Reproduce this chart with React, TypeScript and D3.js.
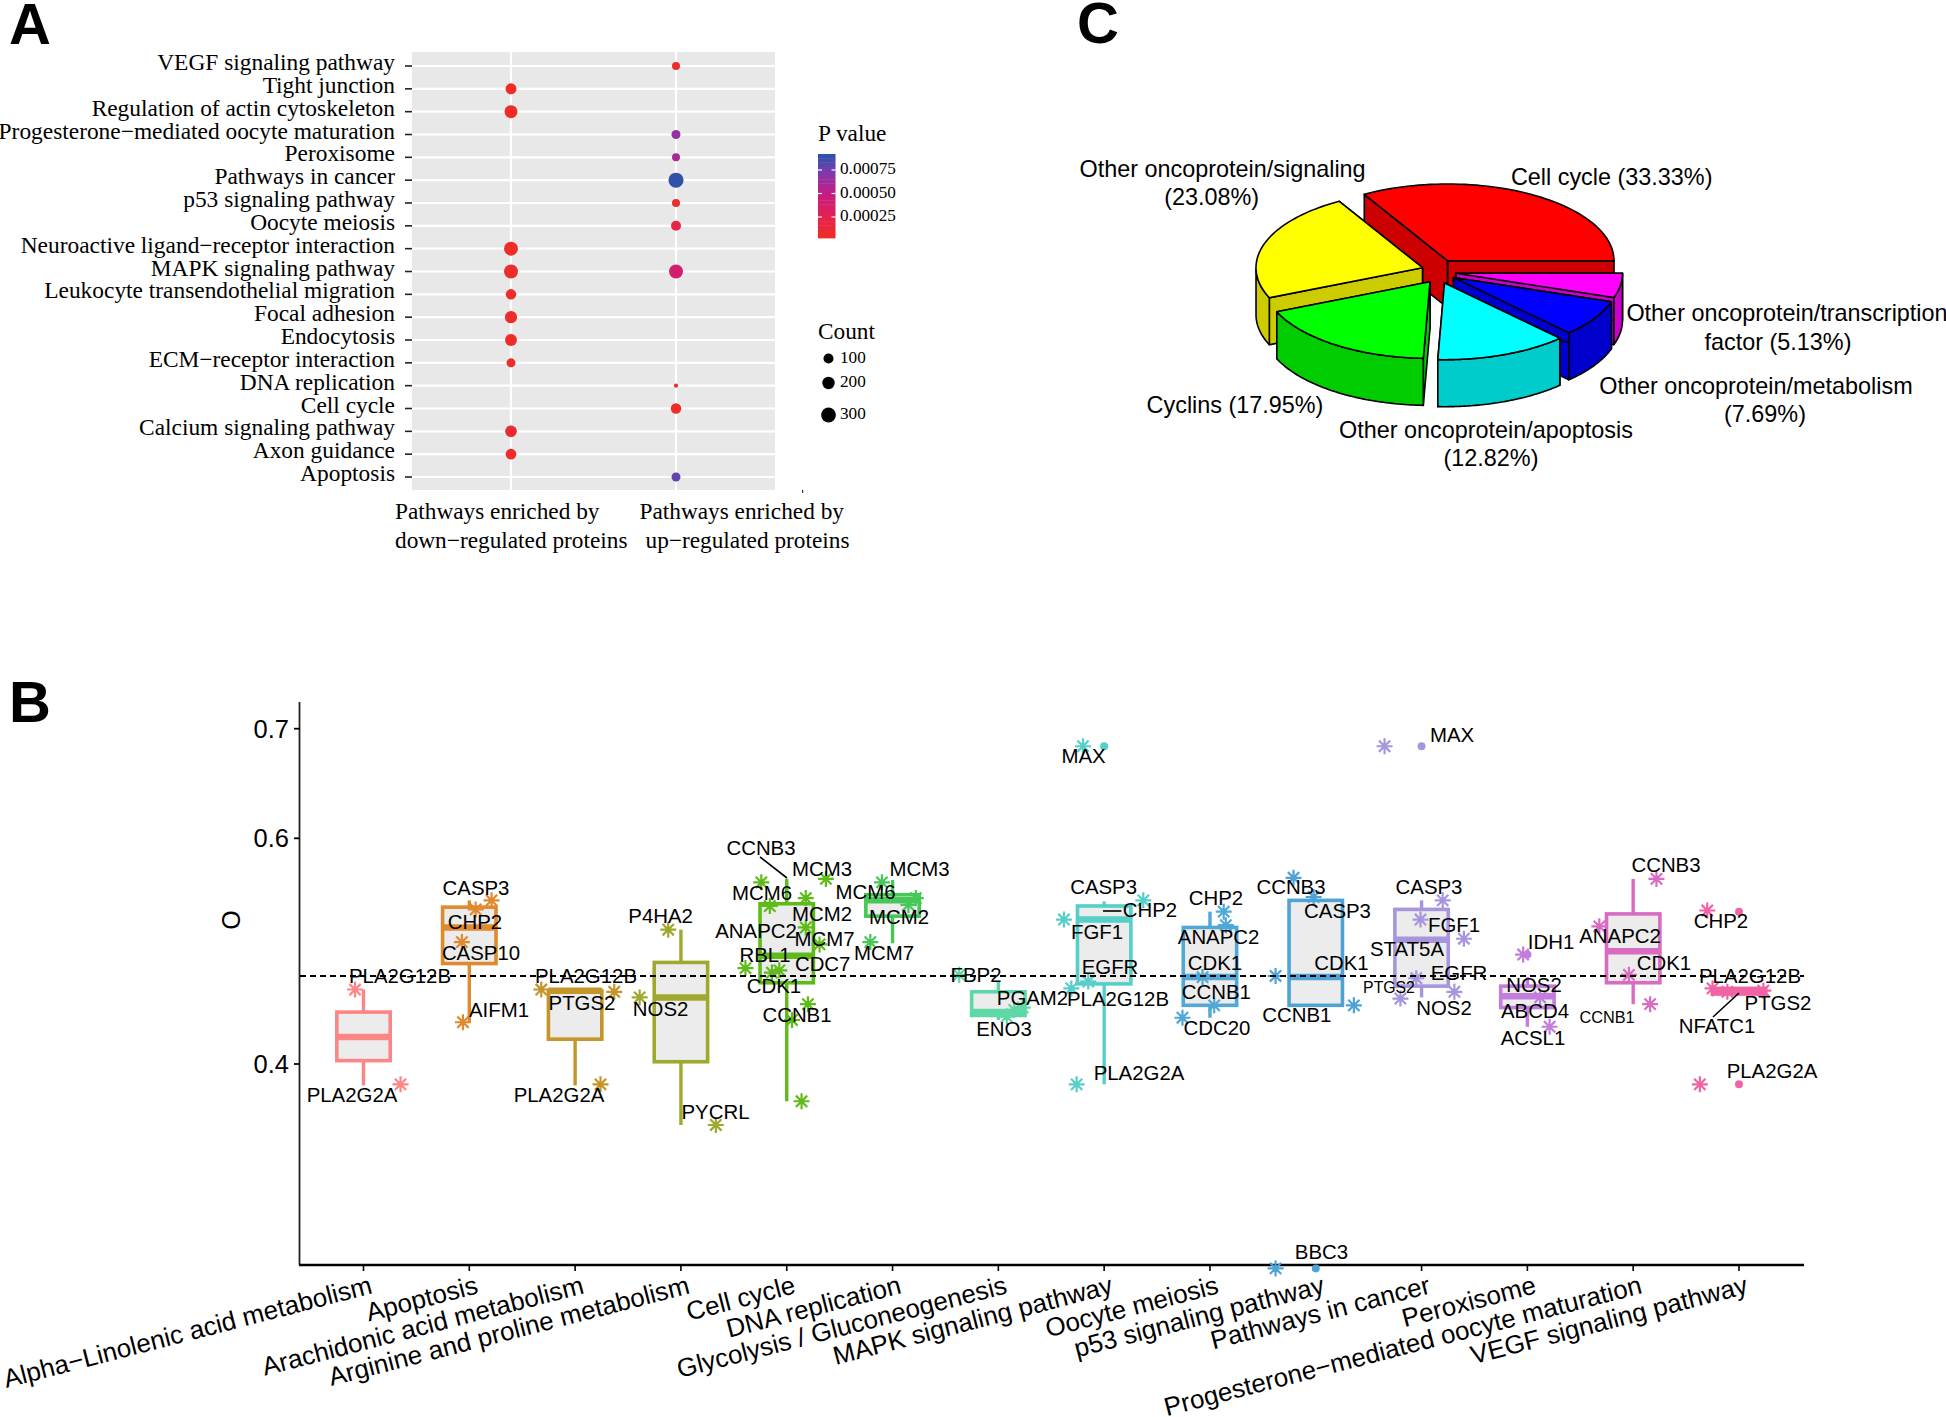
import React from "react";
import * as d3 from "d3";

const SERIF = "'Liberation Serif', serif";
const SANS = "'Liberation Sans', Arial, sans-serif";

/* ---------- Panel A data ---------- */
const pathwaysA = ["VEGF signaling pathway","Tight junction","Regulation of actin cytoskeleton","Progesterone−mediated oocyte maturation","Peroxisome","Pathways in cancer","p53 signaling pathway","Oocyte meiosis","Neuroactive ligand−receptor interaction","MAPK signaling pathway","Leukocyte transendothelial migration","Focal adhesion","Endocytosis","ECM−receptor interaction","DNA replication","Cell cycle","Calcium signaling pathway","Axon guidance","Apoptosis"];
// [pathway index, column, count, p value]
const enrichment: [number, number, number, number][] = [
  [0,1,70,0.00006],[1,0,140,0.00006],[2,0,225,0.00005],[3,1,85,0.00068],[4,1,70,0.00060],[5,1,310,0.00091],
  [6,1,70,0.00008],[7,1,100,0.00022],[8,0,265,0.00006],[9,0,265,0.00008],[9,1,265,0.00040],[10,0,120,0.00006],
  [11,0,190,0.00006],[12,0,180,0.00006],[13,0,85,0.00006],[14,1,12,0.00005],[15,1,120,0.00006],[16,0,170,0.00010],
  [17,0,130,0.00006],[18,1,85,0.00080]
];
const pTicks = [0.00025, 0.0005, 0.00075];
const countTicks = [100, 200, 300];

/* ---------- Panel B data ---------- */
const categories = ["Alpha−Linolenic acid metabolism","Apoptosis","Arachidonic acid metabolism","Arginine and proline metabolism","Cell cycle","DNA replication","Glycolysis / Gluconeogenesis","MAPK signaling pathway","Oocyte meiosis","p53 signaling pathway","Pathways in cancer","Peroxisome","Progesterone−mediated oocyte maturation","VEGF signaling pathway"];
const boxColors = ["#fb8686","#e08a2e","#c4962a","#9ea92d","#5fbb1a","#45c858","#5fd8a8","#55cfc8","#4fa8d8","#4fa2d6","#a795dd","#c37ddc","#d96cc0","#f064a5"];
const q1 = [.403,.489,.422,.402,.472,.531,.443,.471,.452,.452,.469,.450,.472,.462];
const med = [.424,.521,.465,.459,.496,.545,.446,.528,.477,.477,.510,.460,.500,.465];
const q3 = [.446,.539,.465,.490,.542,.550,.464,.540,.521,.545,.537,.469,.533,.467];
const wLo = [.381,.437,.381,.346,.367,.507,.439,.382,.441,.452,.459,.433,.453,.462];
const wHi = [.466,.545,.465,.519,.564,.563,.473,.544,.535,.545,.545,.477,.564,.467];
// outlier stars by category: [jitter in category units, O]
const stars: [number, number][][] = [
  [[-.08,.466],[.35,.382]],
  [[.21,.545],[.06,.537],[-.07,.508],[-.06,.437]],
  [[-.32,.466],[.37,.464],[.24,.382]],
  [[-.12,.519],[-.39,.459],[.33,.346]],
  [[-.24,.561],[-.16,.540],[.37,.564],[.18,.547],[.18,.521],[.31,.506],[-.39,.485],[-.07,.483],[-.14,.481],[.20,.453],[.05,.439],[.14,.367]],
  [[-.10,.561],[.22,.547],[.15,.541],[-.21,.508]],
  [[-.37,.479],[.15,.448],[.08,.442],[.23,.450]],
  [[-.20,.684],[.37,.545],[-.38,.528],[-.31,.467],[-.15,.473],[-.26,.382]],
  [[.13,.535],[.15,.523],[-.07,.477],[.04,.452],[-.26,.441]],
  [[-.21,.565],[-.02,.548],[-.38,.478],[.36,.452],[-.38,.219]],
  [[-.35,.684],[.20,.545],[-.01,.528],[.40,.511],[-.05,.476],[-.20,.458],[.31,.464]],
  [[-.04,.497],[.12,.459],[.21,.433]],
  [[.22,.564],[-.32,.522],[-.04,.479],[.16,.453]],
  [[-.30,.536],[-.25,.467],[-.11,.464],[.23,.465],[-.37,.382]]
];
// labelled points sitting on the category centre: [category, O]
const dots: [number, number][] = [[7,.684],[9,.219],[10,.684],[11,.497],[13,.535],[13,.382]];
const yTicks = [0.4, 0.6, 0.7];
const refLine = 0.478;

const geneNames = ["PLA2G12B","PLA2G2A","CASP3","CHP2","CASP10","AIFM1","PLA2G12B","PTGS2","PLA2G2A","P4HA2","NOS2","PYCRL","CCNB3","MCM3","MCM6","MCM2","ANAPC2","MCM7","RBL1","CDC7","CDK1","CCNB1","MCM3","MCM6","MCM2","MCM7","FBP2","PGAM2","ENO3","MAX","CASP3","CHP2","FGF1","EGFR","PLA2G12B","PLA2G2A","CHP2","ANAPC2","CDK1","CCNB1","CDC20","CCNB3","CASP3","CDK1","CCNB1","BBC3","MAX","CASP3","FGF1","STAT5A","EGFR","PTGS2","NOS2","IDH1","NOS2","ABCD4","ACSL1","CCNB3","ANAPC2","CDK1","CCNB1","CHP2","PLA2G12B","PTGS2","NFATC1","PLA2G2A"];
// annotation layout, same order as geneNames: [cx, cy, font size]
const geneLayout: [number, number, number][] = [
  [400,976,20.4],[352,1095,20.4],[476,888,20.4],[475,922,20.4],[481,953,20.4],[499,1010,20.4],[586,976,20.4],[582,1003,20.4],[559,1095,20.4],[660.6,916,20.4],[660.6,1009,20.4],[715.5,1112,20.4],
  [761,848,20.4],[822,869,20.4],[762,893,20.4],[822,914,20.4],[756,931,20.4],[824.5,939,20.4],[765,955,20.4],[822.7,964,20.4],[774,986,20.4],[797,1015,20.4],[919.5,869,20.4],[865.5,892,20.4],[899,917,20.4],[884,953,20.4],
  [976,975,20.4],[1032.5,998,20.4],[1004,1029,20.4],[1083.6,756,20.4],[1103.6,887,20.4],[1150,910,20.4],[1097,932,20.4],[1110,967,20.4],[1118,999,20.4],[1139,1073,20.4],
  [1216,898,20.4],[1218.6,937,20.4],[1215,963,20.4],[1216.4,992,20.4],[1217,1028,20.4],[1291,887,20.4],[1337.5,911,20.4],[1341.4,963,20.4],[1296.8,1015,20.4],[1321.5,1252,20.4],
  [1452,735,20.4],[1429,887,20.4],[1454,925,20.4],[1407,949,20.4],[1459,973,20.4],[1389,987,15.8],[1444,1008,20.4],[1551,942,20.4],[1534,985,20.4],[1535,1011,20.4],[1533,1038,20.4],
  [1666,865,20.4],[1620,936,20.4],[1664,963,20.4],[1607,1017,16.3],[1721,921,20.4],[1750,976,20.4],[1778,1003,20.4],[1717,1026,20.4],[1772,1071,20.4]
];
// leader segments of the repelled labels
const leaders: [number, number, number, number][] = [[760,857,787,878],[1103,911,1121.4,911],[1713,1017,1739,993]];

/* ---------- Panel C data ---------- */
const sliceNames = ["Cell cycle","Other oncoprotein/signaling","Cyclins","Other oncoprotein/apoptosis","Other oncoprotein/metabolism","Other oncoprotein/transcription factor"];
const sliceShare = [33.33, 23.08, 17.95, 12.82, 7.69, 5.13];
const sliceTop = ["#ff0000","#ffff00","#00ff00","#00ffff","#0000ff","#ff00ff"];
const sliceSide = ["#cc0000","#cccc00","#00cc00","#00cccc","#0000cc","#cc00cc"];
const sliceApex: [number, number][] = [[1447.5,260.7],[1422.5,267.7],[1430,281.7],[1444.5,283],[1453.5,277.5],[1456,273.3]];
const pieOrder = [0,1,5,4,3,2];
const pieLabels: [string, number, number][] = [
  ["Other oncoprotein/signaling",1222.6,169],["(23.08%)",1211.7,197],["Cell cycle (33.33%)",1611.7,177],
  ["Other oncoprotein/transcription",1787,313],["factor (5.13%)",1778,342],["Other oncoprotein/metabolism",1756,386],["(7.69%)",1765,414],
  ["Other oncoprotein/apoptosis",1486,430],["(12.82%)",1491,458],["Cyclins (17.95%)",1235,405]
];

/* ---------- scales ---------- */
const rowY = d3.scalePoint<number>().domain(d3.range(pathwaysA.length)).range([66, 477]);
const colX = d3.scalePoint<number>().domain([0, 1]).range([511, 676]);
const rScale = d3.scaleLinear().domain([10, 100, 200, 300]).range([2, 5, 6.2, 7.4]);
const pColor = d3.scaleLinear<string>().domain([0.00005, 0.00025, 0.0005, 0.00075, 0.00091])
  .range(["#ee2e26", "#e5214f", "#c61c84", "#7c3aae", "#2f52a8"]);
const pY = d3.scaleLinear().domain([0.00025, 0.00075]).range([217, 170]);
const xB = d3.scaleLinear().domain([0, 13]).range([363.5, 1739]);
const yB = d3.scaleLinear().domain([0.222, 0.4, 0.6, 0.7, 0.724]).range([1265, 1064, 838.3, 728.7, 702]);

function asterisk(r: number) {
  const p = d3.path();
  for (let a = 0; a < 4; a++) {
    const t = (a * Math.PI) / 4;
    const dx = Math.sin(t) * r, dy = Math.cos(t) * r;
    p.moveTo(-dx, -dy); p.lineTo(dx, dy);
  }
  return p.toString();
}

function PieSlice({ idx, a0, a1 }: { idx: number; a0: number; a1: number }) {
  const [cx, cy] = sliceApex[idx];
  const rx = 166.5, ry = 76.7, depth = 47;
  const pt = (a: number, dz = 0): [number, number] => [cx + rx * Math.cos(a), cy - ry * Math.sin(a) + dz];
  const steps = d3.range(0, 61).map((i) => a0 + ((a1 - a0) * i) / 60);
  const line = d3.line();
  const top = line([[cx, cy], ...steps.map((a) => pt(a))])! + "Z";
  const r0 = line([[cx, cy], pt(a0), pt(a0, depth), [cx, cy + depth]])! + "Z";
  const r1 = line([[cx, cy], pt(a1), pt(a1, depth), [cx, cy + depth]])! + "Z";
  const front = steps.filter((a) => Math.sin(a) <= 0);
  const band = front.length > 1
    ? line([...front.map((a) => pt(a)), ...front.slice().reverse().map((a) => pt(a, depth))])! + "Z"
    : null;
  const common = { fill: sliceSide[idx], stroke: "#000", strokeWidth: 1.6, strokeLinejoin: "round" as const };
  return (
    <g>
      <path d={r0} {...common} />
      <path d={r1} {...common} />
      {band && <path d={band} {...common} />}
      <path d={top} fill={sliceTop[idx]} stroke="#000" strokeWidth={1.6} strokeLinejoin="round" />
    </g>
  );
}

export default function App() {
  const pie = d3.pie<number>().sort(null).startAngle(0).endAngle(2 * Math.PI)(sliceShare);
  const legendSteps = d3.range(20).map((i) => 0.00005 + (i * (0.00091 - 0.00005)) / 19);
  const legendCountY = [358.5, 383, 415];
  const starPath = asterisk(8);
  return (
    <svg width={1946} height={1417} viewBox="0 0 1946 1417" style={{ position: "absolute", left: 0, top: 0, display: "block", background: "#fff" }}>
      {/* Panel letters */}
      <g fontFamily={SANS} fontWeight="bold" fontSize={58} fill="#000">
        <text x={9} y={44}>A</text>
        <text x={9} y={722}>B</text>
        <text x={1077} y={43}>C</text>
      </g>

      {/* Panel A */}
      <g>
        <rect x={412} y={52} width={363} height={438} fill="#e8e8e8" />
        {pathwaysA.map((_, i) => <line key={i} x1={412} x2={775} y1={rowY(i)} y2={rowY(i)} stroke="#fff" strokeWidth={2.2} />)}
        {[0, 1].map((c) => <line key={c} x1={colX(c)} x2={colX(c)} y1={52} y2={490} stroke="#fff" strokeWidth={2.2} />)}
        {pathwaysA.map((name, i) => (
          <g key={name}>
            <line x1={405} x2={412} y1={rowY(i)} y2={rowY(i)} stroke="#222" strokeWidth={1.6} />
            <text x={395} y={rowY(i)! - 4} textAnchor="end" dominantBaseline="central" fontFamily={SERIF} fontSize={23.4} fill="#000">{name}</text>
          </g>
        ))}
        {enrichment.map(([row, col, count, p], i) => (
          <circle key={i} cx={colX(col)} cy={rowY(row)} r={rScale(count)} fill={pColor(p)} />
        ))}
        <g fontFamily={SERIF} fontSize={23.3} fill="#000">
          <text x={395} y={519}>Pathways enriched by</text>
          <text x={395} y={548}>down−regulated proteins</text>
          <text x={639.5} y={519}>Pathways enriched by</text>
          <text x={645.5} y={548}>up−regulated proteins</text>
          <text x={818} y={141}>P value</text>
          <text x={818} y={339}>Count</text>
        </g>
        {legendSteps.map((p, i) => {
          const h = 84 / 20;
          return <rect key={i} x={818} y={238 - (i + 1) * h} width={17.5} height={h + 0.4} fill={pColor(p)} />;
        })}
        {pTicks.map((t) => (
          <g key={t}>
            <line x1={818} x2={822} y1={pY(t)} y2={pY(t)} stroke="#fff" strokeWidth={1.2} />
            <line x1={831.5} x2={835.5} y1={pY(t)} y2={pY(t)} stroke="#fff" strokeWidth={1.2} />
            <text x={840} y={pY(t) - 1.5} dominantBaseline="central" fontFamily={SERIF} fontSize={17.2}>{t.toFixed(5)}</text>
          </g>
        ))}
        {countTicks.map((c, i) => (
          <g key={c}>
            <circle cx={828.5} cy={legendCountY[i]} r={rScale(c)} fill="#000" />
            <text x={840} y={legendCountY[i] - 1.5} dominantBaseline="central" fontFamily={SERIF} fontSize={17.2}>{c}</text>
          </g>
        ))}
        <rect x={802} y={490} width={1.2} height={3} fill="#333" />
      </g>

      {/* Panel B */}
      <g>
        <line x1={299.5} x2={299.5} y1={702} y2={1265} stroke="#222" strokeWidth={1.8} />
        <line x1={299} x2={1804} y1={1265} y2={1265} stroke="#000" strokeWidth={2.6} />
        {yTicks.map((t) => (
          <g key={t}>
            <line x1={294} x2={299.5} y1={yB(t)} y2={yB(t)} stroke="#000" strokeWidth={1.8} />
            <text x={289} y={yB(t)} textAnchor="end" dominantBaseline="central" fontFamily={SANS} fontSize={25.5}>{t.toFixed(1)}</text>
          </g>
        ))}
        <text transform="translate(231,920) rotate(-90)" textAnchor="middle" dominantBaseline="central" fontFamily={SANS} fontSize={25}>O</text>
        {categories.map((name, i) => (
          <g key={name}>
            <line x1={xB(i)} x2={xB(i)} y1={1265} y2={1271} stroke="#000" strokeWidth={1.6} />
            <text transform={`translate(${xB(i) + 10},1293) rotate(-14.5)`} textAnchor="end" fontFamily={SANS} fontSize={26} fill="#000">{name}</text>
          </g>
        ))}
        {categories.map((name, i) => {
          const cx = xB(i), w = 26.7, col = boxColors[i];
          return (
            <g key={name} stroke={col}>
              <line x1={cx} x2={cx} y1={yB(wHi[i])} y2={yB(q3[i])} strokeWidth={3.4} />
              <line x1={cx} x2={cx} y1={yB(q1[i])} y2={yB(wLo[i])} strokeWidth={3.4} />
              <rect x={cx - w} y={yB(q3[i])} width={2 * w} height={yB(q1[i]) - yB(q3[i])} fill="#ececec" strokeWidth={3.6} />
              <line x1={cx - w} x2={cx + w} y1={yB(med[i])} y2={yB(med[i])} strokeWidth={6.5} />
            </g>
          );
        })}
        {stars.map((list, i) => list.map(([j, v], k) => (
          <path key={`${i}-${k}`} d={starPath} transform={`translate(${xB(i + j)},${yB(v)})`} fill="none" stroke={boxColors[i]} strokeWidth={2.2} />
        )))}
        {dots.map(([c, v], i) => <circle key={i} cx={xB(c)} cy={yB(v)} r={4} fill={boxColors[c]} />)}
        <line x1={300} x2={1804} y1={yB(refLine)} y2={yB(refLine)} stroke="#000" strokeWidth={2} strokeDasharray="6 4" />
        {leaders.map((l, i) => <line key={i} x1={l[0]} y1={l[1]} x2={l[2]} y2={l[3]} stroke="#000" strokeWidth={1.6} />)}
        {geneNames.map((g, i) => (
          <text key={i} x={geneLayout[i][0]} y={geneLayout[i][1]} fontSize={geneLayout[i][2]} textAnchor="middle" dominantBaseline="central" fontFamily={SANS} fill="#000">{g}</text>
        ))}
      </g>

      {/* Panel C */}
      <g>
        {pieOrder.map((i) => <PieSlice key={sliceNames[i]} idx={i} a0={pie[i].startAngle} a1={pie[i].endAngle} />)}
        {pieLabels.map(([t, x, y]) => (
          <text key={t} x={x} y={y} textAnchor="middle" dominantBaseline="central" fontFamily={SANS} fontSize={23.4} fill="#000">{t}</text>
        ))}
      </g>
    </svg>
  );
}
